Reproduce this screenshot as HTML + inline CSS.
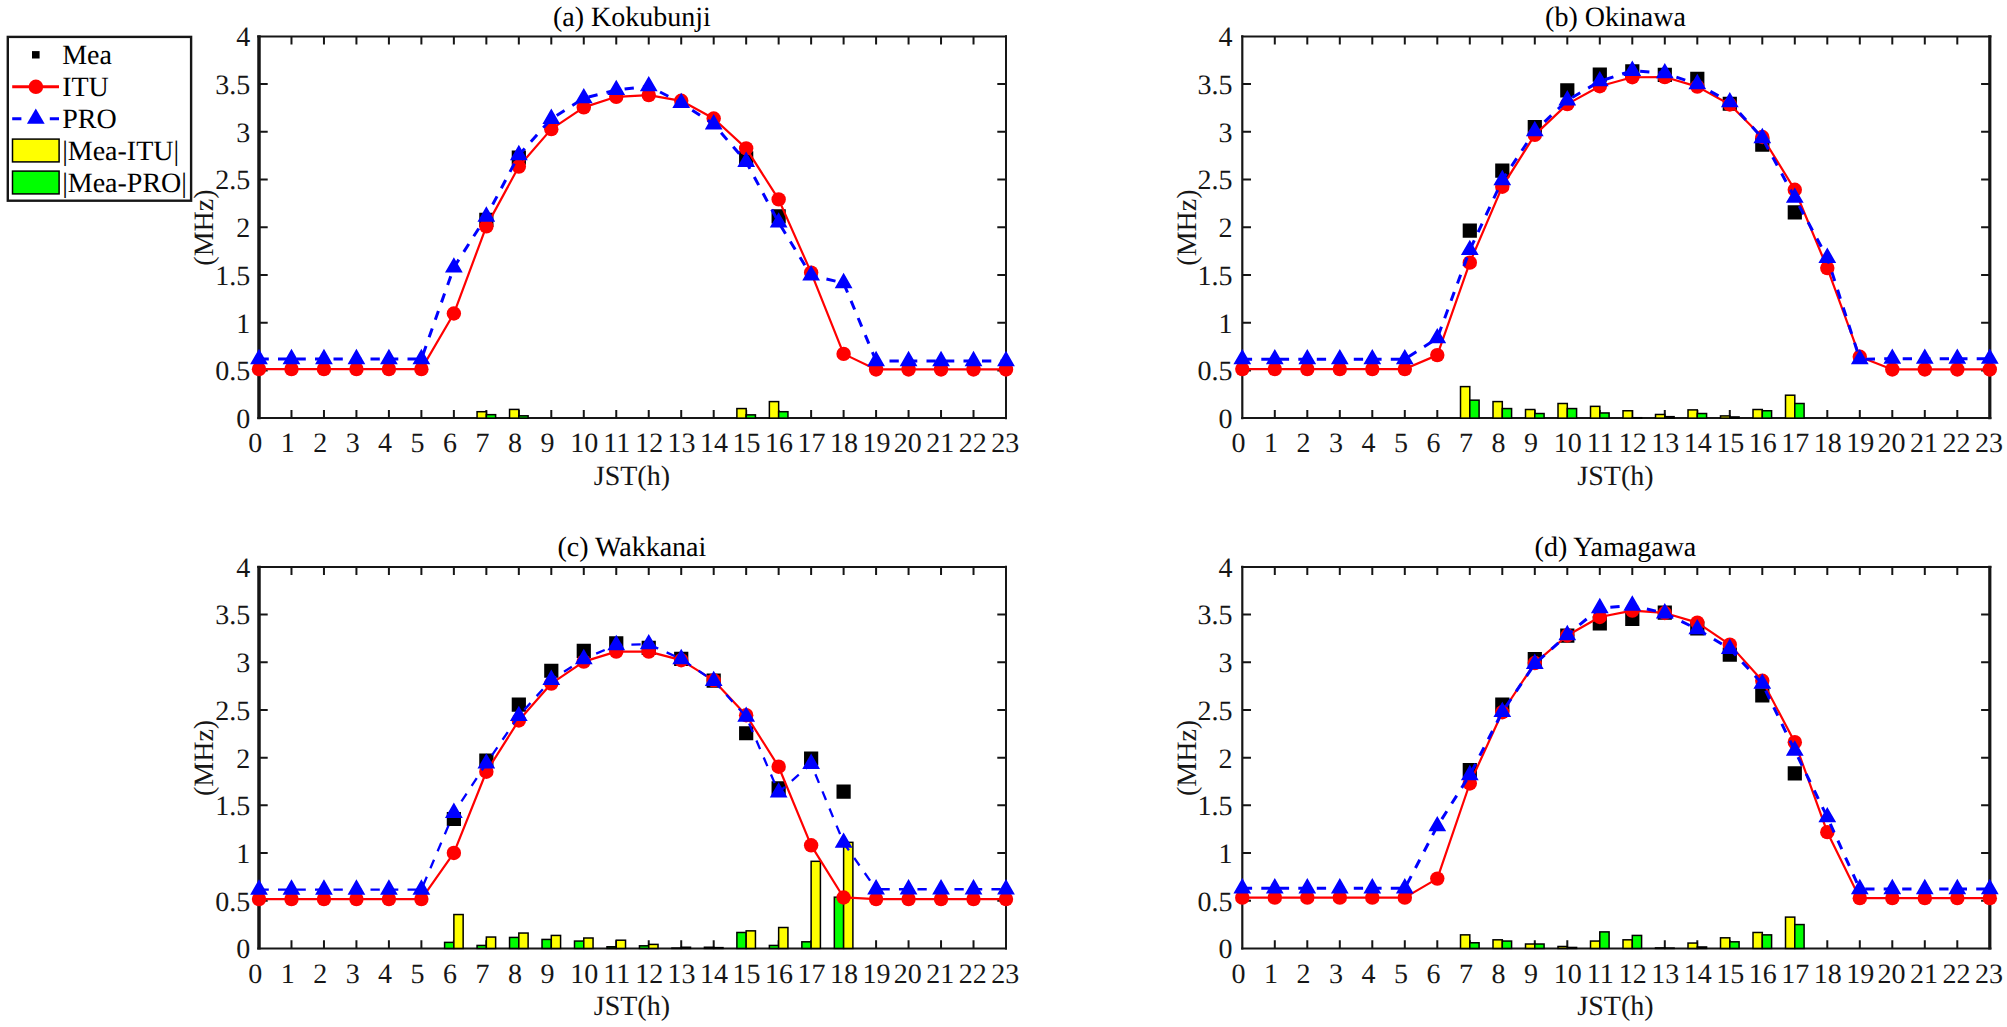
<!DOCTYPE html>
<html lang="en">
<head>
<meta charset="utf-8">
<title>foE comparison: Kokubunji, Okinawa, Wakkanai, Yamagawa</title>
<style>
html,body{margin:0;padding:0;background:#fff;}
body{width:2007px;height:1027px;overflow:hidden;}
svg{display:block;}
.t{text-rendering:geometricPrecision;font-family:"Liberation Serif","Times New Roman",Times,serif;font-size:28px;fill:#161616;}
.k{fill:#000;}
</style>
</head>
<body>
<svg width="2007" height="1027" viewBox="0 0 2007 1027">
<rect width="2007" height="1027" fill="#fff"/>
<g id="ax-a">
<path d="M291.48 418.1v-8.1M291.48 36.4v8.1M323.96 418.1v-8.1M323.96 36.4v8.1M356.43 418.1v-8.1M356.43 36.4v8.1M388.91 418.1v-8.1M388.91 36.4v8.1M421.39 418.1v-8.1M421.39 36.4v8.1M453.87 418.1v-8.1M453.87 36.4v8.1M486.35 418.1v-8.1M486.35 36.4v8.1M518.83 418.1v-8.1M518.83 36.4v8.1M551.3 418.1v-8.1M551.3 36.4v8.1M583.78 418.1v-8.1M583.78 36.4v8.1M616.26 418.1v-8.1M616.26 36.4v8.1M648.74 418.1v-8.1M648.74 36.4v8.1M681.22 418.1v-8.1M681.22 36.4v8.1M713.7 418.1v-8.1M713.7 36.4v8.1M746.17 418.1v-8.1M746.17 36.4v8.1M778.65 418.1v-8.1M778.65 36.4v8.1M811.13 418.1v-8.1M811.13 36.4v8.1M843.61 418.1v-8.1M843.61 36.4v8.1M876.09 418.1v-8.1M876.09 36.4v8.1M908.57 418.1v-8.1M908.57 36.4v8.1M941.04 418.1v-8.1M941.04 36.4v8.1M973.52 418.1v-8.1M973.52 36.4v8.1M259 370.39h8.7M1006 370.39h-8.7M259 322.68h8.7M1006 322.68h-8.7M259 274.96h8.7M1006 274.96h-8.7M259 227.25h8.7M1006 227.25h-8.7M259 179.54h8.7M1006 179.54h-8.7M259 131.82h8.7M1006 131.82h-8.7M259 84.11h8.7M1006 84.11h-8.7" stroke="#161616" stroke-width="2" fill="none"/>
<path d="M257.25 36.4H1007M257.25 418.1H1007" stroke="#161616" stroke-width="2" fill="none"/>
<path d="M259 35.35V419.15" stroke="#161616" stroke-width="3.5" fill="none"/>
<path d="M1006 35.35V419.15" stroke="#161616" stroke-width="2.0" fill="none"/>
<g class="t" text-anchor="end">
<text x="250.3" y="428">0</text>
<text x="250.3" y="380.29">0.5</text>
<text x="250.3" y="332.57">1</text>
<text x="250.3" y="284.86">1.5</text>
<text x="250.3" y="237.15">2</text>
<text x="250.3" y="189.44">2.5</text>
<text x="250.3" y="141.72">3</text>
<text x="250.3" y="94.01">3.5</text>
<text x="250.3" y="46.3">4</text>
</g>
<g class="t" text-anchor="middle">
<text x="255.2" y="452.4">0</text>
<text x="287.68" y="452.4">1</text>
<text x="320.16" y="452.4">2</text>
<text x="352.63" y="452.4">3</text>
<text x="385.11" y="452.4">4</text>
<text x="417.59" y="452.4">5</text>
<text x="450.07" y="452.4">6</text>
<text x="482.55" y="452.4">7</text>
<text x="515.03" y="452.4">8</text>
<text x="547.5" y="452.4">9</text>
<text x="584.18" y="452.4">10</text>
<text x="616.66" y="452.4">11</text>
<text x="649.14" y="452.4">12</text>
<text x="681.62" y="452.4">13</text>
<text x="714.1" y="452.4">14</text>
<text x="746.57" y="452.4">15</text>
<text x="779.05" y="452.4">16</text>
<text x="811.53" y="452.4">17</text>
<text x="844.01" y="452.4">18</text>
<text x="876.49" y="452.4">19</text>
<text x="907.77" y="452.4">20</text>
<text x="940.24" y="452.4">21</text>
<text x="972.72" y="452.4">22</text>
<text x="1005.2" y="452.4">23</text>
</g>
<text class="t" text-anchor="middle" x="631.9" y="484.8">JST(h)</text>
<text class="t k" text-anchor="middle" x="631.9" y="25.6">(a) Kokubunji</text>
<text class="t" text-anchor="middle" transform="translate(212.6 227.55) rotate(-90)">(MHz)</text>
<g stroke="#000" stroke-width="1.5">
<rect x="477.07" y="411.71" width="9.28" height="6.39" fill="#ffff00"/>
<rect x="486.35" y="414.66" width="9.28" height="3.44" fill="#00ff00"/>
<rect x="509.55" y="409.42" width="9.28" height="8.68" fill="#ffff00"/>
<rect x="518.83" y="415.81" width="9.28" height="2.29" fill="#00ff00"/>
<rect x="736.89" y="408.56" width="9.28" height="9.54" fill="#ffff00"/>
<rect x="746.17" y="414.86" width="9.28" height="3.24" fill="#00ff00"/>
<rect x="769.37" y="401.59" width="9.28" height="16.51" fill="#ffff00"/>
<rect x="778.65" y="411.71" width="9.28" height="6.39" fill="#00ff00"/>
</g>
<path d="M479.25 212.8h14.2v14.2h-14.2zM511.73 150.59h14.2v14.2h-14.2zM739.07 151.25h14.2v14.2h-14.2zM771.55 209.37h14.2v14.2h-14.2z" fill="#000"/>
<polyline points="259,369.15 291.48,369.15 323.96,369.15 356.43,369.15 388.91,369.15 421.39,369.15 453.87,313.51 486.35,226.39 518.83,166.56 551.3,129.15 583.78,107.4 616.26,96.8 648.74,95.09 681.22,100.81 713.7,118.47 746.17,148.33 778.65,199.39 811.13,272.58 843.61,353.88 876.09,369.43 908.57,369.43 941.04,369.43 973.52,369.43 1006,369.43" fill="none" stroke="#f00" stroke-width="2.2" stroke-linejoin="round"/>
<g fill="#f00"><circle cx="259" cy="369.15" r="7.2"/><circle cx="291.48" cy="369.15" r="7.2"/><circle cx="323.96" cy="369.15" r="7.2"/><circle cx="356.43" cy="369.15" r="7.2"/><circle cx="388.91" cy="369.15" r="7.2"/><circle cx="421.39" cy="369.15" r="7.2"/><circle cx="453.87" cy="313.51" r="7.2"/><circle cx="486.35" cy="226.39" r="7.2"/><circle cx="518.83" cy="166.56" r="7.2"/><circle cx="551.3" cy="129.15" r="7.2"/><circle cx="583.78" cy="107.4" r="7.2"/><circle cx="616.26" cy="96.8" r="7.2"/><circle cx="648.74" cy="95.09" r="7.2"/><circle cx="681.22" cy="100.81" r="7.2"/><circle cx="713.7" cy="118.47" r="7.2"/><circle cx="746.17" cy="148.33" r="7.2"/><circle cx="778.65" cy="199.39" r="7.2"/><circle cx="811.13" cy="272.58" r="7.2"/><circle cx="843.61" cy="353.88" r="7.2"/><circle cx="876.09" cy="369.43" r="7.2"/><circle cx="908.57" cy="369.43" r="7.2"/><circle cx="941.04" cy="369.43" r="7.2"/><circle cx="973.52" cy="369.43" r="7.2"/><circle cx="1006" cy="369.43" r="7.2"/></g>
<polyline points="259,359.03 291.48,359.03 323.96,359.03 356.43,359.03 388.91,359.03 421.39,359.03 453.87,267.42 486.35,216.56 518.83,155.11 551.3,118.85 583.78,98.24 616.26,89.93 648.74,86.21 681.22,102.91 713.7,124.29 746.17,161.79 778.65,222.48 811.13,275.44 843.61,283.07 876.09,361.04" fill="none" stroke="#00f" stroke-width="3" stroke-dasharray="9.3 9.2" stroke-dashoffset="-0.5" stroke-linejoin="round"/>
<polyline points="876.09,361.04 908.57,361.04 941.04,361.04 973.52,361.04 1006,361.04" fill="none" stroke="#00f" stroke-width="3" stroke-dasharray="9.3 9.2" stroke-dashoffset="5.1"/>
<path d="M259 348.78L267.88 364.16L250.12 364.16ZM291.48 348.78L300.36 364.16L282.6 364.16ZM323.96 348.78L332.83 364.16L315.08 364.16ZM356.43 348.78L365.31 364.16L347.56 364.16ZM388.91 348.78L397.79 364.16L380.04 364.16ZM421.39 348.78L430.27 364.16L412.51 364.16ZM453.87 257.17L462.75 272.55L444.99 272.55ZM486.35 206.31L495.22 221.69L477.47 221.69ZM518.83 144.86L527.7 160.23L509.95 160.23ZM551.3 108.6L560.18 123.97L542.43 123.97ZM583.78 87.99L592.66 103.36L574.91 103.36ZM616.26 79.68L625.14 95.06L607.38 95.06ZM648.74 75.96L657.62 91.34L639.86 91.34ZM681.22 92.66L690.09 108.04L672.34 108.04ZM713.7 114.04L722.57 129.41L704.82 129.41ZM746.17 151.54L755.05 166.91L737.3 166.91ZM778.65 212.23L787.53 227.6L769.78 227.6ZM811.13 265.19L820.01 280.56L802.25 280.56ZM843.61 272.82L852.49 288.2L834.73 288.2ZM876.09 350.79L884.96 366.16L867.21 366.16ZM908.57 350.79L917.44 366.16L899.69 366.16ZM941.04 350.79L949.92 366.16L932.17 366.16ZM973.52 350.79L982.4 366.16L964.64 366.16ZM1006 350.79L1014.88 366.16L997.12 366.16Z" fill="#00f"/>
</g>
<g id="ax-b">
<path d="M1274.8 418.1v-8.1M1274.8 36.4v8.1M1307.3 418.1v-8.1M1307.3 36.4v8.1M1339.8 418.1v-8.1M1339.8 36.4v8.1M1372.3 418.1v-8.1M1372.3 36.4v8.1M1404.8 418.1v-8.1M1404.8 36.4v8.1M1437.3 418.1v-8.1M1437.3 36.4v8.1M1469.8 418.1v-8.1M1469.8 36.4v8.1M1502.3 418.1v-8.1M1502.3 36.4v8.1M1534.8 418.1v-8.1M1534.8 36.4v8.1M1567.3 418.1v-8.1M1567.3 36.4v8.1M1599.8 418.1v-8.1M1599.8 36.4v8.1M1632.3 418.1v-8.1M1632.3 36.4v8.1M1664.8 418.1v-8.1M1664.8 36.4v8.1M1697.3 418.1v-8.1M1697.3 36.4v8.1M1729.8 418.1v-8.1M1729.8 36.4v8.1M1762.3 418.1v-8.1M1762.3 36.4v8.1M1794.8 418.1v-8.1M1794.8 36.4v8.1M1827.3 418.1v-8.1M1827.3 36.4v8.1M1859.8 418.1v-8.1M1859.8 36.4v8.1M1892.3 418.1v-8.1M1892.3 36.4v8.1M1924.8 418.1v-8.1M1924.8 36.4v8.1M1957.3 418.1v-8.1M1957.3 36.4v8.1M1242.3 370.39h8.7M1989.8 370.39h-8.7M1242.3 322.68h8.7M1989.8 322.68h-8.7M1242.3 274.96h8.7M1989.8 274.96h-8.7M1242.3 227.25h8.7M1989.8 227.25h-8.7M1242.3 179.54h8.7M1989.8 179.54h-8.7M1242.3 131.82h8.7M1989.8 131.82h-8.7M1242.3 84.11h8.7M1989.8 84.11h-8.7" stroke="#161616" stroke-width="2" fill="none"/>
<path d="M1241.2 36.4H1991.4M1241.2 418.1H1991.4" stroke="#161616" stroke-width="2" fill="none"/>
<path d="M1242.3 35.35V419.15" stroke="#161616" stroke-width="2.2" fill="none"/>
<path d="M1989.8 35.35V419.15" stroke="#161616" stroke-width="3.2" fill="none"/>
<g class="t" text-anchor="end">
<text x="1232.4" y="428">0</text>
<text x="1232.4" y="380.29">0.5</text>
<text x="1232.4" y="332.57">1</text>
<text x="1232.4" y="284.86">1.5</text>
<text x="1232.4" y="237.15">2</text>
<text x="1232.4" y="189.44">2.5</text>
<text x="1232.4" y="141.72">3</text>
<text x="1232.4" y="94.01">3.5</text>
<text x="1232.4" y="46.3">4</text>
</g>
<g class="t" text-anchor="middle">
<text x="1238.5" y="452.4">0</text>
<text x="1271" y="452.4">1</text>
<text x="1303.5" y="452.4">2</text>
<text x="1336" y="452.4">3</text>
<text x="1368.5" y="452.4">4</text>
<text x="1401" y="452.4">5</text>
<text x="1433.5" y="452.4">6</text>
<text x="1466" y="452.4">7</text>
<text x="1498.5" y="452.4">8</text>
<text x="1531" y="452.4">9</text>
<text x="1567.7" y="452.4">10</text>
<text x="1600.2" y="452.4">11</text>
<text x="1632.7" y="452.4">12</text>
<text x="1665.2" y="452.4">13</text>
<text x="1697.7" y="452.4">14</text>
<text x="1730.2" y="452.4">15</text>
<text x="1762.7" y="452.4">16</text>
<text x="1795.2" y="452.4">17</text>
<text x="1827.7" y="452.4">18</text>
<text x="1860.2" y="452.4">19</text>
<text x="1891.5" y="452.4">20</text>
<text x="1924" y="452.4">21</text>
<text x="1956.5" y="452.4">22</text>
<text x="1989" y="452.4">23</text>
</g>
<text class="t" text-anchor="middle" x="1615.45" y="484.8">JST(h)</text>
<text class="t k" text-anchor="middle" x="1615.45" y="25.6">(b) Okinawa</text>
<text class="t" text-anchor="middle" transform="translate(1195.5 227.55) rotate(-90)">(MHz)</text>
<g stroke="#000" stroke-width="1.5">
<rect x="1460.51" y="386.61" width="9.29" height="31.49" fill="#ffff00"/>
<rect x="1469.8" y="400.16" width="9.29" height="17.94" fill="#00ff00"/>
<rect x="1493.01" y="401.59" width="9.29" height="16.51" fill="#ffff00"/>
<rect x="1502.3" y="408.56" width="9.29" height="9.54" fill="#00ff00"/>
<rect x="1525.51" y="409.51" width="9.29" height="8.59" fill="#ffff00"/>
<rect x="1534.8" y="413.52" width="9.29" height="4.58" fill="#00ff00"/>
<rect x="1558.01" y="403.5" width="9.29" height="14.6" fill="#ffff00"/>
<rect x="1567.3" y="408.56" width="9.29" height="9.54" fill="#00ff00"/>
<rect x="1590.51" y="406.36" width="9.29" height="11.74" fill="#ffff00"/>
<rect x="1599.8" y="412.95" width="9.29" height="5.15" fill="#00ff00"/>
<rect x="1623.01" y="410.75" width="9.29" height="7.35" fill="#ffff00"/>
<rect x="1632.3" y="417.72" width="9.29" height="0.38" fill="#00ff00"/>
<rect x="1655.51" y="414.47" width="9.29" height="3.63" fill="#ffff00"/>
<rect x="1664.8" y="416.67" width="9.29" height="1.43" fill="#00ff00"/>
<rect x="1688.01" y="409.89" width="9.29" height="8.21" fill="#ffff00"/>
<rect x="1697.3" y="413.52" width="9.29" height="4.58" fill="#00ff00"/>
<rect x="1720.51" y="415.91" width="9.29" height="2.19" fill="#ffff00"/>
<rect x="1729.8" y="416.95" width="9.29" height="1.15" fill="#00ff00"/>
<rect x="1753.01" y="409.51" width="9.29" height="8.59" fill="#ffff00"/>
<rect x="1762.3" y="410.75" width="9.29" height="7.35" fill="#00ff00"/>
<rect x="1785.51" y="395.2" width="9.29" height="22.9" fill="#ffff00"/>
<rect x="1794.8" y="403.5" width="9.29" height="14.6" fill="#00ff00"/>
</g>
<path d="M1462.7 223.59h14.2v14.2h-14.2zM1495.2 163.47h14.2v14.2h-14.2zM1527.7 120.05h14.2v14.2h-14.2zM1560.2 83.31h14.2v14.2h-14.2zM1592.7 67.47h14.2v14.2h-14.2zM1625.2 64.23h14.2v14.2h-14.2zM1657.7 67.85h14.2v14.2h-14.2zM1690.2 71.86h14.2v14.2h-14.2zM1722.7 96.67h14.2v14.2h-14.2zM1755.2 137.51h14.2v14.2h-14.2zM1787.7 205.26h14.2v14.2h-14.2z" fill="#000"/>
<polyline points="1242.3,369.05 1274.8,369.05 1307.3,369.05 1339.8,369.05 1372.3,369.05 1404.8,369.05 1437.3,355.12 1469.8,262.65 1502.3,186.69 1534.8,134.88 1567.3,104.15 1599.8,86.21 1632.3,77.24 1664.8,77.05 1697.3,86.59 1729.8,104.53 1762.3,136.98 1794.8,189.75 1827.3,268.09 1859.8,356.74 1892.3,369.43 1924.8,369.43 1957.3,369.43 1989.8,369.43" fill="none" stroke="#f00" stroke-width="2.2" stroke-linejoin="round"/>
<g fill="#f00"><circle cx="1242.3" cy="369.05" r="7.2"/><circle cx="1274.8" cy="369.05" r="7.2"/><circle cx="1307.3" cy="369.05" r="7.2"/><circle cx="1339.8" cy="369.05" r="7.2"/><circle cx="1372.3" cy="369.05" r="7.2"/><circle cx="1404.8" cy="369.05" r="7.2"/><circle cx="1437.3" cy="355.12" r="7.2"/><circle cx="1469.8" cy="262.65" r="7.2"/><circle cx="1502.3" cy="186.69" r="7.2"/><circle cx="1534.8" cy="134.88" r="7.2"/><circle cx="1567.3" cy="104.15" r="7.2"/><circle cx="1599.8" cy="86.21" r="7.2"/><circle cx="1632.3" cy="77.24" r="7.2"/><circle cx="1664.8" cy="77.05" r="7.2"/><circle cx="1697.3" cy="86.59" r="7.2"/><circle cx="1729.8" cy="104.53" r="7.2"/><circle cx="1762.3" cy="136.98" r="7.2"/><circle cx="1794.8" cy="189.75" r="7.2"/><circle cx="1827.3" cy="268.09" r="7.2"/><circle cx="1859.8" cy="356.74" r="7.2"/><circle cx="1892.3" cy="369.43" r="7.2"/><circle cx="1924.8" cy="369.43" r="7.2"/><circle cx="1957.3" cy="369.43" r="7.2"/><circle cx="1989.8" cy="369.43" r="7.2"/></g>
<polyline points="1242.3,359.22 1274.8,359.22 1307.3,359.22 1339.8,359.22 1372.3,359.22 1404.8,359.22 1437.3,338.13 1469.8,249.96 1502.3,180.11 1534.8,131.06 1567.3,100.33 1599.8,81.25 1632.3,70.75 1664.8,73.23 1697.3,84.11 1729.8,102.15 1762.3,138.03 1794.8,197.67 1827.3,257.79 1859.8,359.22" fill="none" stroke="#00f" stroke-width="3" stroke-dasharray="9.3 9.2" stroke-dashoffset="-0.5" stroke-linejoin="round"/>
<polyline points="1859.8,359.22 1892.3,358.75 1924.8,358.75 1957.3,358.75 1989.8,358.75" fill="none" stroke="#00f" stroke-width="3" stroke-dasharray="9.3 9.2" stroke-dashoffset="12.6"/>
<path d="M1242.3 348.97L1251.18 364.35L1233.42 364.35ZM1274.8 348.97L1283.68 364.35L1265.92 364.35ZM1307.3 348.97L1316.18 364.35L1298.42 364.35ZM1339.8 348.97L1348.68 364.35L1330.92 364.35ZM1372.3 348.97L1381.18 364.35L1363.42 364.35ZM1404.8 348.97L1413.68 364.35L1395.92 364.35ZM1437.3 327.88L1446.18 343.26L1428.42 343.26ZM1469.8 239.71L1478.68 255.09L1460.92 255.09ZM1502.3 169.86L1511.18 185.24L1493.42 185.24ZM1534.8 120.81L1543.68 136.19L1525.92 136.19ZM1567.3 90.08L1576.18 105.46L1558.42 105.46ZM1599.8 71L1608.68 86.37L1590.92 86.37ZM1632.3 60.5L1641.18 75.88L1623.42 75.88ZM1664.8 62.98L1673.68 78.36L1655.92 78.36ZM1697.3 73.86L1706.18 89.24L1688.42 89.24ZM1729.8 91.9L1738.68 107.27L1720.92 107.27ZM1762.3 127.78L1771.18 143.15L1753.42 143.15ZM1794.8 187.42L1803.68 202.79L1785.92 202.79ZM1827.3 247.54L1836.18 262.91L1818.42 262.91ZM1859.8 348.97L1868.68 364.35L1850.92 364.35ZM1892.3 348.5L1901.18 363.87L1883.42 363.87ZM1924.8 348.5L1933.68 363.87L1915.92 363.87ZM1957.3 348.5L1966.18 363.87L1948.42 363.87ZM1989.8 348.5L1998.68 363.87L1980.92 363.87Z" fill="#00f"/>
</g>
<g id="ax-c">
<path d="M291.48 948.4v-8.1M291.48 566.9v8.1M323.96 948.4v-8.1M323.96 566.9v8.1M356.43 948.4v-8.1M356.43 566.9v8.1M388.91 948.4v-8.1M388.91 566.9v8.1M421.39 948.4v-8.1M421.39 566.9v8.1M453.87 948.4v-8.1M453.87 566.9v8.1M486.35 948.4v-8.1M486.35 566.9v8.1M518.83 948.4v-8.1M518.83 566.9v8.1M551.3 948.4v-8.1M551.3 566.9v8.1M583.78 948.4v-8.1M583.78 566.9v8.1M616.26 948.4v-8.1M616.26 566.9v8.1M648.74 948.4v-8.1M648.74 566.9v8.1M681.22 948.4v-8.1M681.22 566.9v8.1M713.7 948.4v-8.1M713.7 566.9v8.1M746.17 948.4v-8.1M746.17 566.9v8.1M778.65 948.4v-8.1M778.65 566.9v8.1M811.13 948.4v-8.1M811.13 566.9v8.1M843.61 948.4v-8.1M843.61 566.9v8.1M876.09 948.4v-8.1M876.09 566.9v8.1M908.57 948.4v-8.1M908.57 566.9v8.1M941.04 948.4v-8.1M941.04 566.9v8.1M973.52 948.4v-8.1M973.52 566.9v8.1M259 900.71h8.7M1006 900.71h-8.7M259 853.02h8.7M1006 853.02h-8.7M259 805.34h8.7M1006 805.34h-8.7M259 757.65h8.7M1006 757.65h-8.7M259 709.96h8.7M1006 709.96h-8.7M259 662.27h8.7M1006 662.27h-8.7M259 614.59h8.7M1006 614.59h-8.7" stroke="#161616" stroke-width="2" fill="none"/>
<path d="M257.25 566.9H1007M257.25 948.4H1007" stroke="#161616" stroke-width="2" fill="none"/>
<path d="M259 565.85V949.45" stroke="#161616" stroke-width="3.5" fill="none"/>
<path d="M1006 565.85V949.45" stroke="#161616" stroke-width="2.0" fill="none"/>
<g class="t" text-anchor="end">
<text x="250.3" y="958.3">0</text>
<text x="250.3" y="910.61">0.5</text>
<text x="250.3" y="862.92">1</text>
<text x="250.3" y="815.24">1.5</text>
<text x="250.3" y="767.55">2</text>
<text x="250.3" y="719.86">2.5</text>
<text x="250.3" y="672.17">3</text>
<text x="250.3" y="624.49">3.5</text>
<text x="250.3" y="576.8">4</text>
</g>
<g class="t" text-anchor="middle">
<text x="255.2" y="982.7">0</text>
<text x="287.68" y="982.7">1</text>
<text x="320.16" y="982.7">2</text>
<text x="352.63" y="982.7">3</text>
<text x="385.11" y="982.7">4</text>
<text x="417.59" y="982.7">5</text>
<text x="450.07" y="982.7">6</text>
<text x="482.55" y="982.7">7</text>
<text x="515.03" y="982.7">8</text>
<text x="547.5" y="982.7">9</text>
<text x="584.18" y="982.7">10</text>
<text x="616.66" y="982.7">11</text>
<text x="649.14" y="982.7">12</text>
<text x="681.62" y="982.7">13</text>
<text x="714.1" y="982.7">14</text>
<text x="746.57" y="982.7">15</text>
<text x="779.05" y="982.7">16</text>
<text x="811.53" y="982.7">17</text>
<text x="844.01" y="982.7">18</text>
<text x="876.49" y="982.7">19</text>
<text x="907.77" y="982.7">20</text>
<text x="940.24" y="982.7">21</text>
<text x="972.72" y="982.7">22</text>
<text x="1005.2" y="982.7">23</text>
</g>
<text class="t" text-anchor="middle" x="631.9" y="1015.1">JST(h)</text>
<text class="t k" text-anchor="middle" x="631.9" y="556.1">(c) Wakkanai</text>
<text class="t" text-anchor="middle" transform="translate(212.6 757.95) rotate(-90)">(MHz)</text>
<g stroke="#000" stroke-width="1.5">
<rect x="444.59" y="942.39" width="9.28" height="6.01" fill="#00ff00"/>
<rect x="453.87" y="914.54" width="9.28" height="33.86" fill="#ffff00"/>
<rect x="477.07" y="945.44" width="9.28" height="2.96" fill="#00ff00"/>
<rect x="486.35" y="937.05" width="9.28" height="11.35" fill="#ffff00"/>
<rect x="509.55" y="937.43" width="9.28" height="10.97" fill="#00ff00"/>
<rect x="518.83" y="933.04" width="9.28" height="15.36" fill="#ffff00"/>
<rect x="542.02" y="939.43" width="9.28" height="8.97" fill="#00ff00"/>
<rect x="551.3" y="935.43" width="9.28" height="12.97" fill="#ffff00"/>
<rect x="574.5" y="941.06" width="9.28" height="7.34" fill="#00ff00"/>
<rect x="583.78" y="938" width="9.28" height="10.4" fill="#ffff00"/>
<rect x="606.98" y="946.78" width="9.28" height="1.62" fill="#00ff00"/>
<rect x="616.26" y="940.2" width="9.28" height="8.2" fill="#ffff00"/>
<rect x="639.46" y="945.82" width="9.28" height="2.58" fill="#00ff00"/>
<rect x="648.74" y="944.39" width="9.28" height="4.01" fill="#ffff00"/>
<rect x="671.94" y="948.1" width="9.28" height="0.3" fill="#00ff00"/>
<rect x="681.22" y="947.26" width="9.28" height="1.14" fill="#ffff00"/>
<rect x="704.42" y="947.26" width="9.28" height="1.14" fill="#00ff00"/>
<rect x="713.7" y="947.64" width="9.28" height="0.76" fill="#ffff00"/>
<rect x="736.89" y="932.47" width="9.28" height="15.93" fill="#00ff00"/>
<rect x="746.17" y="930.85" width="9.28" height="17.55" fill="#ffff00"/>
<rect x="769.37" y="945.44" width="9.28" height="2.96" fill="#00ff00"/>
<rect x="778.65" y="927.51" width="9.28" height="20.89" fill="#ffff00"/>
<rect x="801.85" y="941.82" width="9.28" height="6.58" fill="#00ff00"/>
<rect x="811.13" y="861.32" width="9.28" height="87.08" fill="#ffff00"/>
<rect x="834.33" y="897.18" width="9.28" height="51.22" fill="#00ff00"/>
<rect x="843.61" y="842.34" width="9.28" height="106.06" fill="#ffff00"/>
</g>
<path d="M446.77 811.88h14.2v14.2h-14.2zM479.25 753.41h14.2v14.2h-14.2zM511.73 697.62h14.2v14.2h-14.2zM544.2 663.66h14.2v14.2h-14.2zM576.68 643.73h14.2v14.2h-14.2zM609.16 636.2h14.2v14.2h-14.2zM641.64 640.77h14.2v14.2h-14.2zM674.12 651.74h14.2v14.2h-14.2zM706.6 673.58h14.2v14.2h-14.2zM739.07 726.13h14.2v14.2h-14.2zM771.55 781.36h14.2v14.2h-14.2zM804.03 751.41h14.2v14.2h-14.2zM836.51 784.6h14.2v14.2h-14.2z" fill="#000"/>
<polyline points="259,899.09 291.48,899.09 323.96,899.09 356.43,899.09 388.91,899.09 421.39,899.09 453.87,852.93 486.35,771.77 518.83,720.45 551.3,683.54 583.78,661.61 616.26,651.59 648.74,651.59 681.22,660.18 713.7,680.4 746.17,715.21 778.65,766.71 811.13,845.3 843.61,897.47 876.09,899.09 908.57,899.09 941.04,899.09 973.52,899.09 1006,899.09" fill="none" stroke="#f00" stroke-width="2.2" stroke-linejoin="round"/>
<g fill="#f00"><circle cx="259" cy="899.09" r="7.2"/><circle cx="291.48" cy="899.09" r="7.2"/><circle cx="323.96" cy="899.09" r="7.2"/><circle cx="356.43" cy="899.09" r="7.2"/><circle cx="388.91" cy="899.09" r="7.2"/><circle cx="421.39" cy="899.09" r="7.2"/><circle cx="453.87" cy="852.93" r="7.2"/><circle cx="486.35" cy="771.77" r="7.2"/><circle cx="518.83" cy="720.45" r="7.2"/><circle cx="551.3" cy="683.54" r="7.2"/><circle cx="583.78" cy="661.61" r="7.2"/><circle cx="616.26" cy="651.59" r="7.2"/><circle cx="648.74" cy="651.59" r="7.2"/><circle cx="681.22" cy="660.18" r="7.2"/><circle cx="713.7" cy="680.4" r="7.2"/><circle cx="746.17" cy="715.21" r="7.2"/><circle cx="778.65" cy="766.71" r="7.2"/><circle cx="811.13" cy="845.3" r="7.2"/><circle cx="843.61" cy="897.47" r="7.2"/><circle cx="876.09" cy="899.09" r="7.2"/><circle cx="908.57" cy="899.09" r="7.2"/><circle cx="941.04" cy="899.09" r="7.2"/><circle cx="973.52" cy="899.09" r="7.2"/><circle cx="1006" cy="899.09" r="7.2"/></g>
<polyline points="259,889.55 291.48,889.55 323.96,889.55 356.43,889.55 388.91,889.55 421.39,889.55 453.87,812.87 486.35,763.47 518.83,715.88 551.3,679.82 583.78,659.03 616.26,645.01 648.74,644.25 681.22,659.03 713.7,680.97 746.17,716.64 778.65,792.46 811.13,763.85 843.61,842.72 876.09,889.27" fill="none" stroke="#00f" stroke-width="2.3" stroke-dasharray="9.3 9.2" stroke-dashoffset="-0.5" stroke-linejoin="round"/>
<polyline points="876.09,889.27 908.57,889.27 941.04,889.27 973.52,889.27 1006,889.27" fill="none" stroke="#00f" stroke-width="2.3" stroke-dasharray="9.3 9.2" stroke-dashoffset="14.15"/>
<path d="M259 879.3L267.88 894.68L250.12 894.68ZM291.48 879.3L300.36 894.68L282.6 894.68ZM323.96 879.3L332.83 894.68L315.08 894.68ZM356.43 879.3L365.31 894.68L347.56 894.68ZM388.91 879.3L397.79 894.68L380.04 894.68ZM421.39 879.3L430.27 894.68L412.51 894.68ZM453.87 802.62L462.75 818L444.99 818ZM486.35 753.22L495.22 768.59L477.47 768.59ZM518.83 705.63L527.7 721L509.95 721ZM551.3 669.57L560.18 684.95L542.43 684.95ZM583.78 648.78L592.66 664.16L574.91 664.16ZM616.26 634.76L625.14 650.14L607.38 650.14ZM648.74 634L657.62 649.37L639.86 649.37ZM681.22 648.78L690.09 664.16L672.34 664.16ZM713.7 670.72L722.57 686.09L704.82 686.09ZM746.17 706.39L755.05 721.76L737.3 721.76ZM778.65 782.21L787.53 797.59L769.78 797.59ZM811.13 753.6L820.01 768.97L802.25 768.97ZM843.61 832.47L852.49 847.85L834.73 847.85ZM876.09 879.02L884.96 894.39L867.21 894.39ZM908.57 879.02L917.44 894.39L899.69 894.39ZM941.04 879.02L949.92 894.39L932.17 894.39ZM973.52 879.02L982.4 894.39L964.64 894.39ZM1006 879.02L1014.88 894.39L997.12 894.39Z" fill="#00f"/>
</g>
<g id="ax-d">
<path d="M1274.8 948.4v-8.1M1274.8 566.9v8.1M1307.3 948.4v-8.1M1307.3 566.9v8.1M1339.8 948.4v-8.1M1339.8 566.9v8.1M1372.3 948.4v-8.1M1372.3 566.9v8.1M1404.8 948.4v-8.1M1404.8 566.9v8.1M1437.3 948.4v-8.1M1437.3 566.9v8.1M1469.8 948.4v-8.1M1469.8 566.9v8.1M1502.3 948.4v-8.1M1502.3 566.9v8.1M1534.8 948.4v-8.1M1534.8 566.9v8.1M1567.3 948.4v-8.1M1567.3 566.9v8.1M1599.8 948.4v-8.1M1599.8 566.9v8.1M1632.3 948.4v-8.1M1632.3 566.9v8.1M1664.8 948.4v-8.1M1664.8 566.9v8.1M1697.3 948.4v-8.1M1697.3 566.9v8.1M1729.8 948.4v-8.1M1729.8 566.9v8.1M1762.3 948.4v-8.1M1762.3 566.9v8.1M1794.8 948.4v-8.1M1794.8 566.9v8.1M1827.3 948.4v-8.1M1827.3 566.9v8.1M1859.8 948.4v-8.1M1859.8 566.9v8.1M1892.3 948.4v-8.1M1892.3 566.9v8.1M1924.8 948.4v-8.1M1924.8 566.9v8.1M1957.3 948.4v-8.1M1957.3 566.9v8.1M1242.3 900.71h8.7M1989.8 900.71h-8.7M1242.3 853.02h8.7M1989.8 853.02h-8.7M1242.3 805.34h8.7M1989.8 805.34h-8.7M1242.3 757.65h8.7M1989.8 757.65h-8.7M1242.3 709.96h8.7M1989.8 709.96h-8.7M1242.3 662.27h8.7M1989.8 662.27h-8.7M1242.3 614.59h8.7M1989.8 614.59h-8.7" stroke="#161616" stroke-width="2" fill="none"/>
<path d="M1241.2 566.9H1991.4M1241.2 948.4H1991.4" stroke="#161616" stroke-width="2" fill="none"/>
<path d="M1242.3 565.85V949.45" stroke="#161616" stroke-width="2.2" fill="none"/>
<path d="M1989.8 565.85V949.45" stroke="#161616" stroke-width="3.2" fill="none"/>
<g class="t" text-anchor="end">
<text x="1232.4" y="958.3">0</text>
<text x="1232.4" y="910.61">0.5</text>
<text x="1232.4" y="862.92">1</text>
<text x="1232.4" y="815.24">1.5</text>
<text x="1232.4" y="767.55">2</text>
<text x="1232.4" y="719.86">2.5</text>
<text x="1232.4" y="672.17">3</text>
<text x="1232.4" y="624.49">3.5</text>
<text x="1232.4" y="576.8">4</text>
</g>
<g class="t" text-anchor="middle">
<text x="1238.5" y="982.7">0</text>
<text x="1271" y="982.7">1</text>
<text x="1303.5" y="982.7">2</text>
<text x="1336" y="982.7">3</text>
<text x="1368.5" y="982.7">4</text>
<text x="1401" y="982.7">5</text>
<text x="1433.5" y="982.7">6</text>
<text x="1466" y="982.7">7</text>
<text x="1498.5" y="982.7">8</text>
<text x="1531" y="982.7">9</text>
<text x="1567.7" y="982.7">10</text>
<text x="1600.2" y="982.7">11</text>
<text x="1632.7" y="982.7">12</text>
<text x="1665.2" y="982.7">13</text>
<text x="1697.7" y="982.7">14</text>
<text x="1730.2" y="982.7">15</text>
<text x="1762.7" y="982.7">16</text>
<text x="1795.2" y="982.7">17</text>
<text x="1827.7" y="982.7">18</text>
<text x="1860.2" y="982.7">19</text>
<text x="1891.5" y="982.7">20</text>
<text x="1924" y="982.7">21</text>
<text x="1956.5" y="982.7">22</text>
<text x="1989" y="982.7">23</text>
</g>
<text class="t" text-anchor="middle" x="1615.45" y="1015.1">JST(h)</text>
<text class="t k" text-anchor="middle" x="1615.45" y="556.1">(d) Yamagawa</text>
<text class="t" text-anchor="middle" transform="translate(1195.5 757.95) rotate(-90)">(MHz)</text>
<g stroke="#000" stroke-width="1.5">
<rect x="1460.51" y="934.86" width="9.29" height="13.54" fill="#ffff00"/>
<rect x="1469.8" y="942.77" width="9.29" height="5.63" fill="#00ff00"/>
<rect x="1493.01" y="939.82" width="9.29" height="8.58" fill="#ffff00"/>
<rect x="1502.3" y="941.06" width="9.29" height="7.34" fill="#00ff00"/>
<rect x="1525.51" y="944.01" width="9.29" height="4.39" fill="#ffff00"/>
<rect x="1534.8" y="944.01" width="9.29" height="4.39" fill="#00ff00"/>
<rect x="1558.01" y="946.49" width="9.29" height="1.91" fill="#ffff00"/>
<rect x="1567.3" y="947.45" width="9.29" height="0.95" fill="#00ff00"/>
<rect x="1590.51" y="941.06" width="9.29" height="7.34" fill="#ffff00"/>
<rect x="1599.8" y="931.9" width="9.29" height="16.5" fill="#00ff00"/>
<rect x="1623.01" y="939.82" width="9.29" height="8.58" fill="#ffff00"/>
<rect x="1632.3" y="935.43" width="9.29" height="12.97" fill="#00ff00"/>
<rect x="1655.51" y="947.92" width="9.29" height="0.48" fill="#ffff00"/>
<rect x="1664.8" y="948.1" width="9.29" height="0.3" fill="#00ff00"/>
<rect x="1688.01" y="943.06" width="9.29" height="5.34" fill="#ffff00"/>
<rect x="1697.3" y="946.97" width="9.29" height="1.43" fill="#00ff00"/>
<rect x="1720.51" y="937.81" width="9.29" height="10.59" fill="#ffff00"/>
<rect x="1729.8" y="941.82" width="9.29" height="6.58" fill="#00ff00"/>
<rect x="1753.01" y="932.47" width="9.29" height="15.93" fill="#ffff00"/>
<rect x="1762.3" y="934.86" width="9.29" height="13.54" fill="#00ff00"/>
<rect x="1785.51" y="917.12" width="9.29" height="31.28" fill="#ffff00"/>
<rect x="1794.8" y="924.56" width="9.29" height="23.84" fill="#00ff00"/>
</g>
<path d="M1462.7 762.95h14.2v14.2h-14.2zM1495.2 697.52h14.2v14.2h-14.2zM1527.7 652.03h14.2v14.2h-14.2zM1560.2 628.57h14.2v14.2h-14.2zM1592.7 616.26h14.2v14.2h-14.2zM1625.2 611.68h14.2v14.2h-14.2zM1657.7 605.58h14.2v14.2h-14.2zM1690.2 621.22h14.2v14.2h-14.2zM1722.7 647.54h14.2v14.2h-14.2zM1755.2 688.37h14.2v14.2h-14.2zM1787.7 766.19h14.2v14.2h-14.2z" fill="#000"/>
<polyline points="1242.3,897.66 1274.8,897.66 1307.3,897.66 1339.8,897.66 1372.3,897.66 1404.8,897.66 1437.3,878.59 1469.8,783.5 1502.3,712.25 1534.8,663.04 1567.3,635.47 1599.8,616.97 1632.3,610.58 1664.8,612.97 1697.3,622.6 1729.8,644.63 1762.3,680.78 1794.8,742.2 1827.3,832.14 1859.8,898.14 1892.3,898.14 1924.8,898.14 1957.3,898.14 1989.8,898.14" fill="none" stroke="#f00" stroke-width="2.2" stroke-linejoin="round"/>
<g fill="#f00"><circle cx="1242.3" cy="897.66" r="7.2"/><circle cx="1274.8" cy="897.66" r="7.2"/><circle cx="1307.3" cy="897.66" r="7.2"/><circle cx="1339.8" cy="897.66" r="7.2"/><circle cx="1372.3" cy="897.66" r="7.2"/><circle cx="1404.8" cy="897.66" r="7.2"/><circle cx="1437.3" cy="878.59" r="7.2"/><circle cx="1469.8" cy="783.5" r="7.2"/><circle cx="1502.3" cy="712.25" r="7.2"/><circle cx="1534.8" cy="663.04" r="7.2"/><circle cx="1567.3" cy="635.47" r="7.2"/><circle cx="1599.8" cy="616.97" r="7.2"/><circle cx="1632.3" cy="610.58" r="7.2"/><circle cx="1664.8" cy="612.97" r="7.2"/><circle cx="1697.3" cy="622.6" r="7.2"/><circle cx="1729.8" cy="644.63" r="7.2"/><circle cx="1762.3" cy="680.78" r="7.2"/><circle cx="1794.8" cy="742.2" r="7.2"/><circle cx="1827.3" cy="832.14" r="7.2"/><circle cx="1859.8" cy="898.14" r="7.2"/><circle cx="1892.3" cy="898.14" r="7.2"/><circle cx="1924.8" cy="898.14" r="7.2"/><circle cx="1957.3" cy="898.14" r="7.2"/><circle cx="1989.8" cy="898.14" r="7.2"/></g>
<polyline points="1242.3,888.31 1274.8,888.31 1307.3,888.31 1339.8,888.31 1372.3,888.31 1404.8,888.31 1437.3,826.22 1469.8,775.01 1502.3,711.97 1534.8,663.8 1567.3,635.09 1599.8,608.01 1632.3,605.53 1664.8,613.25 1697.3,629.18 1729.8,648.83 1762.3,683.73 1794.8,750.59 1827.3,817.16 1859.8,889.08" fill="none" stroke="#00f" stroke-width="3" stroke-dasharray="9.3 9.2" stroke-dashoffset="-0.5" stroke-linejoin="round"/>
<polyline points="1859.8,889.08 1892.3,889.08 1924.8,889.08 1957.3,889.08 1989.8,889.08" fill="none" stroke="#00f" stroke-width="3" stroke-dasharray="9.3 9.2" stroke-dashoffset="13.1"/>
<path d="M1242.3 878.06L1251.18 893.44L1233.42 893.44ZM1274.8 878.06L1283.68 893.44L1265.92 893.44ZM1307.3 878.06L1316.18 893.44L1298.42 893.44ZM1339.8 878.06L1348.68 893.44L1330.92 893.44ZM1372.3 878.06L1381.18 893.44L1363.42 893.44ZM1404.8 878.06L1413.68 893.44L1395.92 893.44ZM1437.3 815.97L1446.18 831.35L1428.42 831.35ZM1469.8 764.76L1478.68 780.13L1460.92 780.13ZM1502.3 701.72L1511.18 717.09L1493.42 717.09ZM1534.8 653.55L1543.68 668.93L1525.92 668.93ZM1567.3 624.84L1576.18 640.22L1558.42 640.22ZM1599.8 597.76L1608.68 613.13L1590.92 613.13ZM1632.3 595.28L1641.18 610.65L1623.42 610.65ZM1664.8 603L1673.68 618.38L1655.92 618.38ZM1697.3 618.93L1706.18 634.3L1688.42 634.3ZM1729.8 638.58L1738.68 653.95L1720.92 653.95ZM1762.3 673.48L1771.18 688.86L1753.42 688.86ZM1794.8 740.34L1803.68 755.72L1785.92 755.72ZM1827.3 806.91L1836.18 822.29L1818.42 822.29ZM1859.8 878.83L1868.68 894.2L1850.92 894.2ZM1892.3 878.83L1901.18 894.2L1883.42 894.2ZM1924.8 878.83L1933.68 894.2L1915.92 894.2ZM1957.3 878.83L1966.18 894.2L1948.42 894.2ZM1989.8 878.83L1998.68 894.2L1980.92 894.2Z" fill="#00f"/>
</g>
<g id="legend">
<rect x="7.8" y="36.9" width="183.3" height="163.8" fill="#fff" stroke="#161616" stroke-width="2.4"/>
<rect x="32" y="51.1" width="7.6" height="7.4" fill="#000"/>
<path d="M12.2 86.8H59" stroke="#f00" stroke-width="3" fill="none"/>
<circle cx="35.9" cy="86.8" r="7.3" fill="#f00"/>
<path d="M12.2 118.7H59" stroke="#00f" stroke-width="3" stroke-dasharray="9.2 28.4" fill="none"/>
<path d="M35.8 108.45L44.68 123.83L26.92 123.83Z" fill="#00f"/>
<rect x="12.5" y="139.1" width="46.6" height="22.8" fill="#ffff00" stroke="#000" stroke-width="1.5"/>
<rect x="12.5" y="171.1" width="46.6" height="22.8" fill="#00ff00" stroke="#000" stroke-width="1.5"/>
<text class="t k" x="62.2" y="63.9">Mea</text>
<text class="t k" x="62.2" y="95.9">ITU</text>
<text class="t k" x="62.2" y="127.8">PRO</text>
<text class="t k" x="62.2" y="159.6">|Mea-ITU|</text>
<text class="t k" x="62.2" y="191.6">|Mea-PRO|</text>
</g>
</svg>
</body>
</html>
